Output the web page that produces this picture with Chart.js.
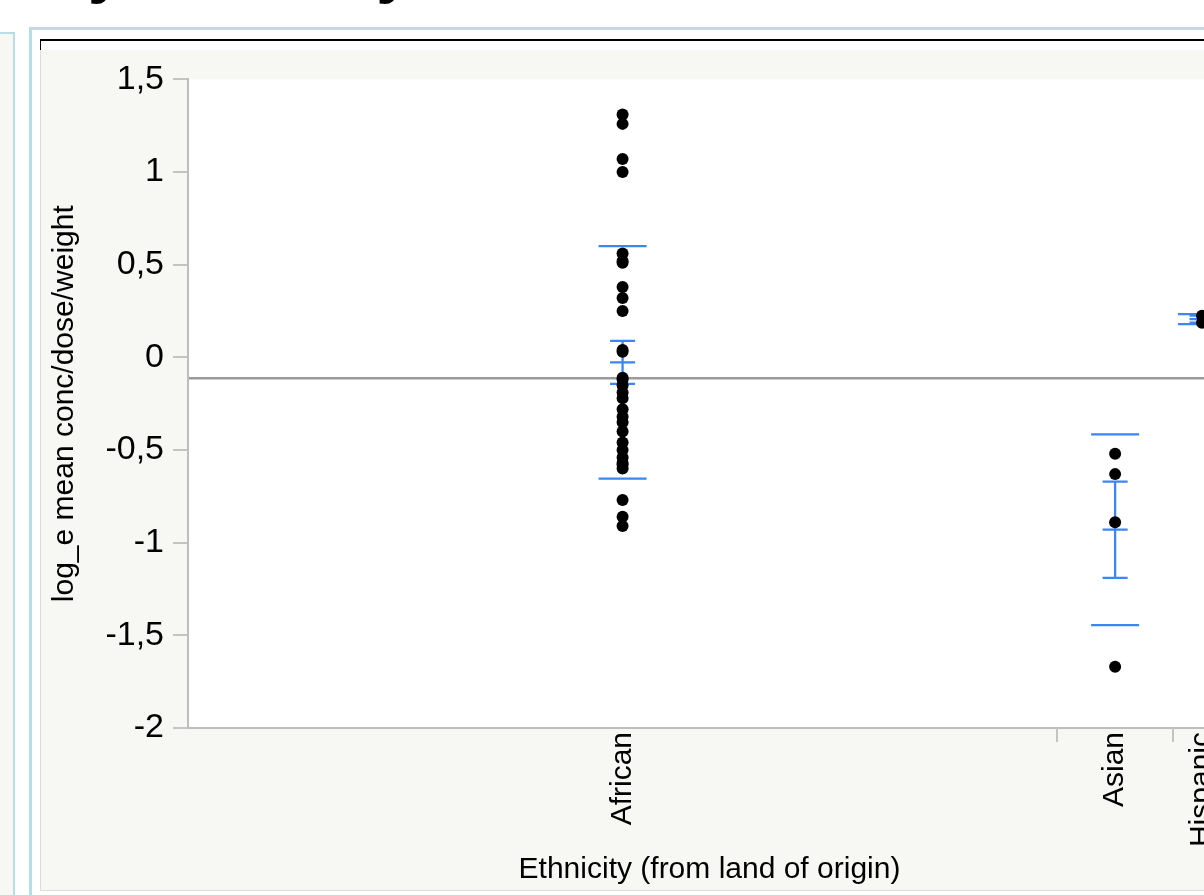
<!DOCTYPE html>
<html>
<head>
<meta charset="utf-8">
<script src="https://cdn.jsdelivr.net/npm/chart.js@4.4.1/dist/chart.umd.min.js"></script>
<style>
  html, body { margin: 0; padding: 0; background: #fff; width: 1204px; height: 895px; overflow: hidden; position: relative; font-family: "Liberation Sans", Arial, sans-serif; }
  #heading { position: absolute; left: 49px; top: -63px; font-size: 64px; line-height: 64px; font-weight: bold; color: #000; white-space: nowrap; margin: 0; }
  #sidePanel { position: absolute; left: -10px; top: 32px; width: 21px; height: 900px; border: 2px solid #b9dde3; background: #f7f7f3; }
  #outerPanel { position: absolute; left: 29px; top: 27px; width: 1300px; height: 900px; border: 3px solid #b9dde3; background: #fff; box-sizing: border-box; }
  #frameTop { position: absolute; left: 40px; top: 39px; width: 1300px; height: 11px; border-top: 2px solid #000; border-left: 1px solid #000; box-sizing: border-box; }
  #plotFrame { position: absolute; left: 40px; top: 50px; width: 1300px; height: 841px; background: #f7f7f3; border-left: 1px solid #dcdcd8; border-bottom: 1px solid #dcdcd8; box-sizing: border-box; }
  #chartBox { position: absolute; left: 0; top: 0; width: 1299px; height: 840px; }
</style>
</head>
<body>
<h1 id="heading">by Ethnicity</h1>
<div id="sidePanel"></div>
<div id="outerPanel"></div>
<div id="frameTop"></div>
<div id="plotFrame"><div id="chartBox"><canvas id="onewayChart"></canvas></div></div>
<script>
// values
const categories = ['African', 'Asian', 'Hispanic'];
const africanValues = [1.31, 1.26, 1.07, 1.00, 0.56, 0.52, 0.51, 0.38, 0.32, 0.25,
    0.04, 0.03, -0.11, -0.12, -0.15, -0.19, -0.22, -0.28, -0.32, -0.35,
    -0.40, -0.46, -0.50, -0.54, -0.57, -0.58, -0.60, -0.77, -0.86, -0.91];
const asianValues = [-0.52, -0.63, -0.89, -1.67];
const hispanicValues = [0.225, 0.187];
const groupMeans = [-0.027, -0.93, 0.206];
const groupStdErr = [0.116, 0.26, 0.019];
const groupStdDev = [0.627, 0.515, 0.027];
const grandMean = -0.113;
const yMin = -2, yMax = 1.5, yStep = 0.5;

const groupValues = [africanValues, asianValues, hispanicValues];

// x axis width of each group is proportional to its count (JMP style)
const counts = groupValues.map(g => g.length);
const boundaries = [];
const centers = [];
let run = 0;
counts.forEach(n => { centers.push(run + n / 2); run += n; boundaries.push(run); });
const total = run;

const points = [];
groupValues.forEach((g, i) => g.forEach(v => points.push({ x: centers[i], y: v })));

const blue = '#3a86f2';

const onewayMarks = {
    id: 'onewayMarks',
    beforeDraw(chart) {
        const { ctx, chartArea: a } = chart;
        ctx.save();
        ctx.fillStyle = '#fff';
        ctx.fillRect(a.left, a.top, a.right - a.left, a.bottom - a.top);
        ctx.restore();
    },
    beforeDatasetsDraw(chart) {
        const { ctx, chartArea: a, scales: { x, y } } = chart;
        ctx.save();
        ctx.beginPath();
        ctx.rect(a.left + 1, a.top, a.right - a.left, a.bottom - a.top - 1);
        ctx.clip();
        // grand mean
        const gy = y.getPixelForValue(grandMean);
        ctx.strokeStyle = '#9b9b9b';
        ctx.lineWidth = 2.5;
        ctx.beginPath(); ctx.moveTo(a.left, gy); ctx.lineTo(a.right, gy); ctx.stroke();

        ctx.strokeStyle = blue;
        ctx.lineWidth = 2.3;
        const hline = (cx, py, half) => { ctx.beginPath(); ctx.moveTo(cx - half, py); ctx.lineTo(cx + half, py); ctx.stroke(); };
        centers.forEach((c, i) => {
            const px = x.getPixelForValue(c);
            const m = groupMeans[i], se = groupStdErr[i], sd = groupStdDev[i];
            hline(px, y.getPixelForValue(m + sd), 24);
            hline(px, y.getPixelForValue(m - sd), 24);
            hline(px, y.getPixelForValue(m + se), 12.5);
            hline(px, y.getPixelForValue(m), 12.5);
            hline(px, y.getPixelForValue(m - se), 12.5);
            ctx.beginPath();
            ctx.moveTo(px, y.getPixelForValue(m + se));
            ctx.lineTo(px, y.getPixelForValue(m - se));
            ctx.stroke();
        });
        ctx.restore();
    },
    afterDraw(chart) {
        const { ctx, chartArea: a, scales: { x } } = chart;
        ctx.save();
        ctx.strokeStyle = '#c4c4c4';
        ctx.lineWidth = 2;
        boundaries.slice(0, -1).forEach(b => {
            const px = Math.round(x.getPixelForValue(b));
            ctx.beginPath(); ctx.moveTo(px, a.bottom); ctx.lineTo(px, a.bottom + 14); ctx.stroke();
        });
        ctx.restore();
    }
};

Chart.defaults.font.family = '"Liberation Sans", Arial, sans-serif';
Chart.defaults.color = '#000';

new Chart(document.getElementById('onewayChart'), {
    type: 'scatter',
    data: {
        datasets: [{
            data: points,
            pointRadius: 6,
            pointBackgroundColor: '#000',
            pointBorderWidth: 0,
            pointHoverRadius: 6
        }]
    },
    options: {
        responsive: true,
        maintainAspectRatio: false,
        animation: false,
        layout: { padding: { top: 27, right: 109, left: 0, bottom: 0 } },
        plugins: { legend: { display: false }, tooltip: { enabled: false } },
        scales: {
            x: {
                type: 'linear',
                min: 0,
                max: total,
                afterBuildTicks: s => { s.ticks = centers.map(v => ({ value: v })); },
                afterFit: s => { s.height = 162; },
                grid: { display: false, drawTicks: false },
                border: { display: true, color: '#bdbdbd', width: 2 },
                ticks: {
                    autoSkip: false, minRotation: 90, maxRotation: 90, padding: 4,
                    color: '#000', font: { size: 30 },
                    callback: (v, i) => categories[i]
                },
                title: { display: true, text: 'Ethnicity (from land of origin)', color: '#000', font: { size: 30 }, padding: { top: 0, bottom: 2 } }
            },
            y: {
                min: yMin,
                max: yMax,
                afterFit: s => { s.width = 147; },
                ticks: {
                    stepSize: yStep, padding: 9, color: '#000', font: { size: 34 },
                    callback: v => String(v).replace('.', ',')
                },
                grid: { drawOnChartArea: false, tickLength: 15, color: '#c4c4c4', lineWidth: 2 },
                border: { color: '#bdbdbd', width: 2 },
                title: { display: true, text: 'log_e mean conc/dose/weight', color: '#000', font: { size: 30 }, padding: { top: 6, bottom: 0 } }
            }
        }
    },
    plugins: [onewayMarks]
});
</script>
</body>
</html>
